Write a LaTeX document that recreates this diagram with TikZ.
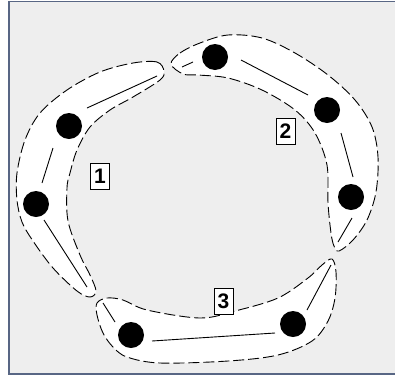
\documentclass[tikz,border=0pt]{standalone}
\usepackage{fontspec}
\setmainfont{Liberation Sans}
\definecolor{bggray}{RGB}{238,238,238}
\definecolor{frameblue}{RGB}{88,102,132}
\tikzset{
  blob/.style={fill=white, draw=black, line width=0.9pt, dash pattern=on 11pt off 4pt, smooth cycle, tension=0.55},
  dotnode/.style={circle, fill=black, draw=none, minimum size=26pt, inner sep=0pt},
  link/.style={draw=black, line width=0.9pt},
  tag/.style={draw=black, fill=white, line width=0.8pt, inner sep=0pt, minimum width=19pt, minimum height=26pt, font=\fontsize{21}{21}\selectfont\bfseries}
}
\begin{document}
\begin{tikzpicture}[x=1pt,y=-1pt]
\useasboundingbox (0,0) rectangle (395,378);
\fill[white] (0,0) rectangle (395,378);
\draw[fill=bggray, draw=frameblue, line width=1.4pt] (9,1.5) rectangle (402,374);

% blob 1
\draw[blob] plot coordinates {(164,71) (157,62) (133,63) (100,72) (67,90) (40,113) (25,140) (17,173) (17,200) (22,222) (33,241) (53,268) (77,291) (90,297) (96,291) (90,275) (80,255) (68,221) (67,188) (70,173) (77,150) (90,127) (110,110) (133,97) (160,80)};
% blob 2
\draw[blob] plot coordinates {(171,64) (180,53) (200,43) (228,35) (262,38) (295,53) (328,75) (355,100) (372,127) (378,157) (376,192) (367,220) (353,240) (339,251) (334,246) (331,233) (328,203) (327,165) (315,133) (295,110) (262,90) (228,78) (198,75) (183,74)};
% blob 3
\draw[blob] plot coordinates {(97,303) (107,298) (123,300) (147,310) (200,318) (235,311) (278,298) (308,278) (322,265) (332,259) (336,272) (335,298) (328,321) (312,341) (278,355) (228,361) (160,363) (127,357) (113,347) (103,333) (97,315)};

% dots
\node[dotnode] (a1) at (69,126) {};
\node[dotnode] (a2) at (36,204) {};
\node[dotnode] (b1) at (215,57) {};
\node[dotnode] (b2) at (327,110) {};
\node[dotnode] (b3) at (351,197) {};
\node[dotnode] (c1) at (131,335) {};
\node[dotnode] (c2) at (293,324) {};

% link end points
\coordinate (p1) at (87,108);  \coordinate (q1) at (157,76);
\coordinate (p2) at (53,148);  \coordinate (q2) at (42,183);
\coordinate (p3) at (44,220);  \coordinate (q3) at (87,287);
\coordinate (p4) at (182,67);  \coordinate (q4) at (193,62);
\coordinate (p5) at (241,60);  \coordinate (q5) at (308,95);
\coordinate (p6) at (341,133); \coordinate (q6) at (353,177);
\coordinate (p7) at (352,218); \coordinate (q7) at (338,242);
\coordinate (p8) at (103,303); \coordinate (q8) at (115,322);
\coordinate (p9) at (152,341); \coordinate (q9) at (275,333);
\coordinate (p10) at (307,310); \coordinate (q10) at (331,265);

\foreach \i in {1,...,10} { \draw[link] (p\i) -- (q\i); }

% tags
\node[tag] (t1) at (100,176) {1};
\node[tag] (t2) at (285.5,131.5) {2};
\node[tag] (t3) at (223.5,301) {3};
\end{tikzpicture}
\end{document}
